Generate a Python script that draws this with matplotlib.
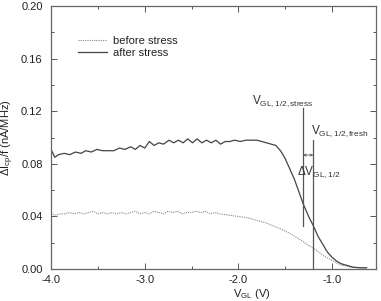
import numpy as np
import matplotlib
matplotlib.use('Agg')
import matplotlib.pyplot as plt
from matplotlib.ticker import MultipleLocator, FormatStrFormatter

plt.rcParams['font.family'] = ['Liberation Sans', 'DejaVu Sans']
plt.rcParams['mathtext.fontset'] = 'custom'
plt.rcParams['mathtext.rm'] = 'Liberation Sans'
plt.rcParams['mathtext.it'] = 'Liberation Sans'

# after stress (solid)
v_after = [-4.00, -3.96, -3.92, -3.86, -3.80, -3.74, -3.68, -3.63, -3.57, -3.51,
           -3.45, -3.39, -3.33, -3.27, -3.21, -3.15, -3.10, -3.05, -3.00, -2.95,
           -2.90, -2.85, -2.80, -2.74, -2.69, -2.64, -2.59, -2.54, -2.49, -2.44,
           -2.39, -2.34, -2.29, -2.24, -2.19, -2.14, -2.09, -2.04, -1.98, -1.92,
           -1.86, -1.80, -1.75, -1.70, -1.65, -1.60, -1.55, -1.50, -1.45, -1.40,
           -1.35, -1.31, -1.25, -1.20, -1.15, -1.10, -1.05, -1.00, -0.95, -0.90,
           -0.85, -0.78, -0.70, -0.63]
i_after = [0.091, 0.085, 0.087, 0.088, 0.087, 0.089, 0.088, 0.090, 0.089, 0.091,
           0.090, 0.090, 0.090, 0.092, 0.091, 0.093, 0.091, 0.094, 0.092, 0.097,
           0.094, 0.096, 0.095, 0.098, 0.096, 0.098, 0.096, 0.099, 0.096, 0.099,
           0.096, 0.098, 0.096, 0.098, 0.095, 0.097, 0.097, 0.098, 0.097, 0.098,
           0.098, 0.098, 0.097, 0.096, 0.095, 0.094, 0.090, 0.084, 0.076, 0.068,
           0.058, 0.050, 0.040, 0.033, 0.025, 0.019, 0.013, 0.009, 0.006, 0.004,
           0.003, 0.0015, 0.001, 0.001]

# before stress (dotted)
v_before = [-4.00, -3.95, -3.90, -3.85, -3.80, -3.75, -3.70, -3.65, -3.60, -3.55,
            -3.50, -3.45, -3.40, -3.35, -3.30, -3.25, -3.20, -3.15, -3.10, -3.05,
            -3.00, -2.95, -2.90, -2.85, -2.80, -2.75, -2.70, -2.65, -2.60, -2.55,
            -2.50, -2.45, -2.40, -2.35, -2.30, -2.25, -2.20, -2.10, -2.00, -1.90,
            -1.80, -1.70, -1.60, -1.50, -1.45, -1.40, -1.31, -1.25, -1.20, -1.10,
            -1.00, -0.95, -0.90, -0.80, -0.70, -0.63]
i_before = [0.042, 0.041, 0.042, 0.042, 0.043, 0.042, 0.043, 0.042, 0.043, 0.044,
            0.042, 0.043, 0.042, 0.043, 0.042, 0.043, 0.042, 0.043, 0.044, 0.042,
            0.043, 0.042, 0.044, 0.043, 0.042, 0.044, 0.043, 0.044, 0.042, 0.043,
            0.043, 0.044, 0.043, 0.044, 0.042, 0.043, 0.042, 0.041, 0.040, 0.039,
            0.037, 0.035, 0.032, 0.029, 0.027, 0.025, 0.021, 0.018, 0.016, 0.0106,
            0.0065, 0.0046, 0.003, 0.0015, 0.001, 0.001]

v_stress = -1.31
v_fresh = -1.20

fig = plt.figure(figsize=(3.81, 3.01), dpi=100)
ax = fig.add_axes([0.134, 0.106, 0.853, 0.874])

ax.plot(v_before, i_before, color='#888888', lw=0.8, ls=(0, (1, 1)), label='before stress')
ax.plot(v_after, i_after, color='#444444', lw=0.9, label='after stress')

# markers for V_GL,1/2
ax.plot([v_stress, v_stress], [0.0327, 0.1224], color='#555555', lw=0.9)
ax.plot([v_fresh, v_fresh], [0.0, 0.098], color='#555555', lw=0.9)
ax.annotate('', xy=(v_stress, 0.0867), xytext=(v_fresh, 0.0867),
            arrowprops=dict(arrowstyle='<->', color='#555555', lw=0.6,
                            shrinkA=0, shrinkB=0, mutation_scale=4))

ax.text(-1.855, 0.1255, r'V$\mathregular{_{GL,1/2,stress}}$', fontsize=8.5, color='#333333')
ax.text(-1.225, 0.1027, r'V$\mathregular{_{GL,1/2,fresh}}$', fontsize=8.5, color='#333333')
ax.text(-1.375, 0.0715, r'$\mathregular{\Delta}$V$\mathregular{_{GL,1/2}}$', fontsize=8.5, color='#333333')

ax.set_xlim(-4.0, -0.53)
ax.set_ylim(0.0, 0.20)
ax.xaxis.set_major_locator(MultipleLocator(1.0))
ax.xaxis.set_minor_locator(MultipleLocator(0.5))
ax.yaxis.set_major_locator(MultipleLocator(0.04))
ax.yaxis.set_minor_locator(MultipleLocator(0.02))
ax.xaxis.set_major_formatter(FormatStrFormatter('%.1f'))
ax.yaxis.set_major_formatter(FormatStrFormatter('%.2f'))
ax.tick_params(which='both', direction='in', top=True, right=True, colors='#555555',
               labelcolor='#222222', labelsize=8, width=0.7)
ax.tick_params(which='major', length=4)
ax.tick_params(which='minor', length=2)
ax.tick_params(axis='y', pad=6)
ax.tick_params(axis='x', pad=4)
for s in ax.spines.values():
    s.set_color('#666666')
    s.set_linewidth(0.9)

leg = ax.legend(loc='upper left', bbox_to_anchor=(0.083, 0.886), frameon=False,
                fontsize=8, handlelength=2.6, handletextpad=0.55, labelspacing=0.2,
                borderpad=0, borderaxespad=0)
for t in leg.get_texts():
    t.set_color('#222222')

fig.text(252 / 381, 1 - 294 / 301, r'V$\mathregular{_{GL}}$ (V)', fontsize=8,
         ha='center', va='center', color='#222222')
fig.text(8 / 381, 1 - 138 / 301, r'$\mathregular{\Delta I_{cp}/f\ (nA/MHz)}$', fontsize=8,
         ha='center', va='center', rotation=90, color='#222222')

fig.savefig('out.png', dpi=100)
